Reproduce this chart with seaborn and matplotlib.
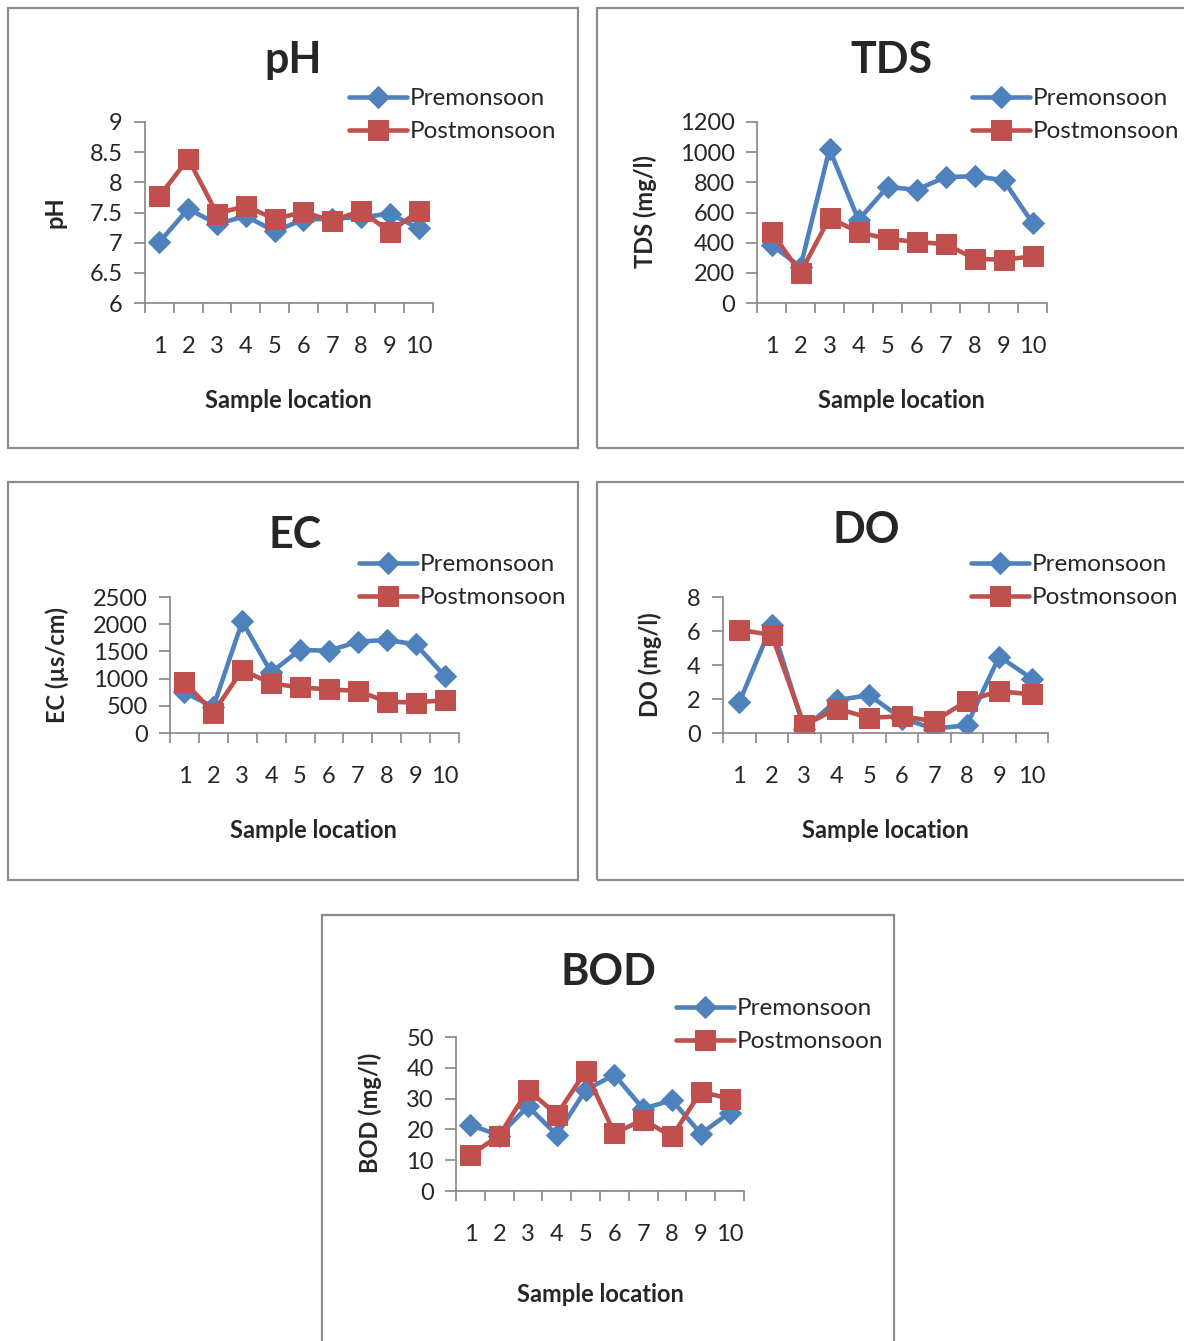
"""
plot.py - water quality parameters, premonsoon vs postmonsoon, 10 sample locations
"""

import matplotlib
matplotlib.use("Agg")
import matplotlib.pyplot as plt
import matplotlib.patches as mpatches
from matplotlib.ticker import FixedLocator, FuncFormatter
import seaborn as sns

# ===================================================
# DATA
# ===================================================
locations = [1, 2, 3, 4, 5, 6, 7, 8, 9, 10]

ph_pre = [7.01, 7.56, 7.31, 7.44, 7.19, 7.38, 7.40, 7.42, 7.48, 7.24]
ph_post = [7.77, 8.39, 7.48, 7.61, 7.39, 7.51, 7.36, 7.53, 7.18, 7.52]

tds_pre = [385, 240, 1020, 550, 770, 750, 835, 840, 815, 530]
tds_post = [470, 200, 565, 470, 425, 405, 390, 295, 285, 310]

ec_pre = [745, 480, 2050, 1115, 1530, 1510, 1680, 1710, 1630, 1050]
ec_post = [940, 375, 1160, 910, 840, 800, 775, 575, 560, 605]

do_pre = [1.8, 6.36, 0.25, 1.93, 2.23, 0.85, 0.26, 0.45, 4.5, 3.2]
do_post = [6.07, 5.77, 0.45, 1.44, 0.89, 0.99, 0.69, 1.89, 2.46, 2.27]

bod_pre = [21.5, 18.0, 27.5, 18.2, 32.8, 37.7, 26.7, 29.5, 18.6, 25.4]
bod_post = [11.7, 18.0, 32.8, 24.8, 38.8, 18.8, 23.1, 17.7, 32.2, 30.0]

series_names = ["Premonsoon", "Postmonsoon"]

# ===================================================
# SETTINGS
# ===================================================
W, H = 1184, 1341
BLUE = "#4F81BD"
RED = "#C0504D"
AXIS_GREY = "#868686"

sns.set_style("white")
plt.rcParams["font.family"] = ["Lato", "DejaVu Sans"]


def fx(px):
    return px / W


def fy(py):
    return 1 - py / H


def panel_box(fig, x0, y0, x1, y1):
    rect = mpatches.Rectangle((fx(x0), fy(y1)), fx(x1) - fx(x0), fy(y0) - fy(y1),
                              transform=fig.transFigure, fill=False,
                              edgecolor="#8c8c8c", linewidth=1.6)
    fig.patches.append(rect)


def draw_panel(fig, cfg):
    left, top, right, bottom = cfg["axes"]
    ax = fig.add_axes([fx(left), fy(bottom), fx(right) - fx(left), fy(top) - fy(bottom)])

    sns.lineplot(x=locations, y=cfg["pre"], ax=ax, color=BLUE, marker="D",
                 markersize=11, markeredgecolor=BLUE, linewidth=3.3,
                 label=series_names[0])
    sns.lineplot(x=locations, y=cfg["post"], ax=ax, color=RED, marker="s",
                 markersize=14, markeredgecolor=RED, linewidth=3.3,
                 label=series_names[1])

    ax.set_xlim(0.5, 10.5)
    ax.set_ylim(cfg["ylim"])
    ax.set_yticks(cfg["yticks"])
    ax.yaxis.set_major_formatter(FuncFormatter(lambda v, p: f"{v:g}"))

    # category axis: tick marks between points, labels under points
    ax.xaxis.set_major_locator(FixedLocator([i + 0.5 for i in range(0, 11)]))
    ax.xaxis.set_minor_locator(FixedLocator(locations))
    ax.xaxis.set_major_formatter(FuncFormatter(lambda v, p: ""))
    ax.xaxis.set_minor_formatter(FuncFormatter(lambda v, p: f"{v:g}"))
    ax.tick_params(axis="x", which="major", direction="out", length=7,
                   width=1.2, color=AXIS_GREY, bottom=True)
    ax.tick_params(axis="x", which="minor", length=0, pad=24, labelsize=17)
    ax.tick_params(axis="y", direction="out", length=8, width=1.2,
                   color=AXIS_GREY, left=True, labelsize=17, pad=8)

    for side in ["top", "right"]:
        ax.spines[side].set_visible(False)
    for side in ["left", "bottom"]:
        ax.spines[side].set_color(AXIS_GREY)
        ax.spines[side].set_linewidth(1.2)
    ax.grid(False)
    ax.set_xlabel("")
    ax.set_ylabel("")

    fig.text(fx(cfg["title"][0]), fy(cfg["title"][1]), cfg["name"], fontsize=31,
             fontweight="bold", ha="center", va="center")
    fig.text(fx(cfg["xlab"][0]), fy(cfg["xlab"][1]), "Sample location", fontsize=17,
             fontweight="bold", ha="center", va="center")
    fig.text(fx(cfg["ylab"][0]), fy(cfg["ylab"][1]), cfg["ylabel"], fontsize=17,
             fontweight="bold", ha="center", va="center", rotation=90)

    ax.legend(loc="upper left", bbox_to_anchor=(fx(cfg["leg"][0]), fy(cfg["leg"][1])),
              bbox_transform=fig.transFigure, frameon=False, fontsize=17.5,
              handlelength=2.4, handletextpad=0.1, borderaxespad=0,
              borderpad=0, labelspacing=0.5, markerscale=1.0)
    return ax


# ===================================================
# MAIN FLOW
# ===================================================
def main():
    fig = plt.figure(figsize=(W / 100, H / 100), dpi=100)

    panel_box(fig, 8, 8, 578, 448)
    panel_box(fig, 597, 8, 1200, 448)
    panel_box(fig, 8, 482, 578, 880)
    panel_box(fig, 597, 482, 1200, 880)
    panel_box(fig, 322, 915, 894, 1360)

    panels = [
        dict(name="pH", pre=ph_pre, post=ph_post, ylim=(6, 9),
             yticks=[6, 6.5, 7, 7.5, 8, 8.5, 9], ylabel="pH",
             axes=(145, 122, 433, 303), title=(293, 60), xlab=(288, 401),
             ylab=(55, 212), leg=(349, 88)),
        dict(name="TDS", pre=tds_pre, post=tds_post, ylim=(0, 1200),
             yticks=[0, 200, 400, 600, 800, 1000, 1200], ylabel="TDS (mg/l)",
             axes=(757, 122, 1047, 303), title=(891, 60), xlab=(901, 401),
             ylab=(645, 212), leg=(972, 88)),
        dict(name="EC", pre=ec_pre, post=ec_post, ylim=(0, 2500),
             yticks=[0, 500, 1000, 1500, 2000, 2500], ylabel="EC (µs/cm)",
             axes=(170, 597, 459, 733), title=(295, 535), xlab=(313, 831),
             ylab=(57, 665), leg=(359, 554)),
        dict(name="DO", pre=do_pre, post=do_post, ylim=(0, 8),
             yticks=[0, 2, 4, 6, 8], ylabel="DO (mg/l)",
             axes=(723, 597, 1048, 733), title=(866, 530), xlab=(885, 831),
             ylab=(650, 665), leg=(971, 554)),
        dict(name="BOD", pre=bod_pre, post=bod_post, ylim=(0, 50),
             yticks=[0, 10, 20, 30, 40, 50], ylabel="BOD (mg/l)",
             axes=(456, 1037, 744, 1191), title=(608, 972), xlab=(600, 1294),
             ylab=(370, 1113), leg=(676, 998)),
    ]
    for cfg in panels:
        draw_panel(fig, cfg)

    fig.savefig("out.png", dpi=100)
    plt.close(fig)


if __name__ == "__main__":
    main()
